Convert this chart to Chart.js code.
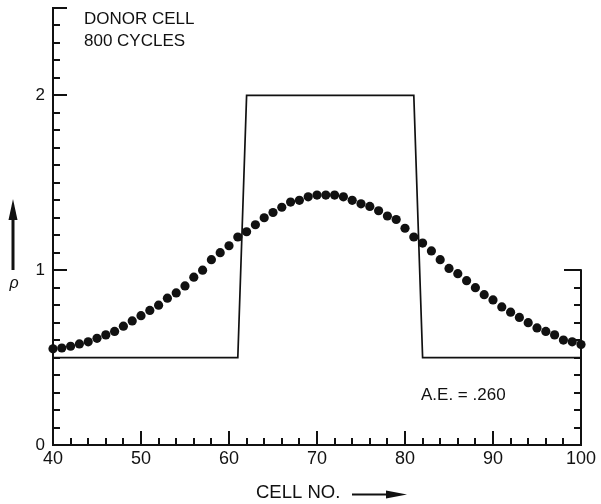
<!DOCTYPE html>
<html>
<head>
<meta charset="utf-8">
<script src="https://cdn.jsdelivr.net/npm/chart.js@4.4.0/dist/chart.umd.min.js"></script>
<style>
  html, body { margin: 0; padding: 0; background: #fff; }
  canvas { display: block; }
</style>
</head>
<body>
<canvas id="profile" width="601" height="504"></canvas>
<script>
// Donor-cell advection of a square pulse after 800 cycles.

const cellNumbers = [
  40, 41, 42, 43, 44, 45, 46, 47, 48, 49,
  50, 51, 52, 53, 54, 55, 56, 57, 58, 59,
  60, 61, 62, 63, 64, 65, 66, 67, 68, 69,
  70, 71, 72, 73, 74, 75, 76, 77, 78, 79,
  80, 81, 82, 83, 84, 85, 86, 87, 88, 89,
  90, 91, 92, 93, 94, 95, 96, 97, 98, 99, 100
];

const computedRho = [
  0.55, 0.555, 0.565, 0.578, 0.59, 0.61, 0.63, 0.65, 0.68, 0.71,
  0.74, 0.77, 0.80, 0.84, 0.87, 0.91, 0.96, 1.00, 1.06, 1.10,
  1.14, 1.19, 1.22, 1.26, 1.30, 1.33, 1.36, 1.39, 1.40, 1.42,
  1.43, 1.43, 1.43, 1.42, 1.40, 1.38, 1.365, 1.34, 1.31, 1.29,
  1.24, 1.19, 1.155, 1.11, 1.06, 1.01, 0.98, 0.94, 0.90, 0.86,
  0.83, 0.79, 0.76, 0.73, 0.70, 0.67, 0.65, 0.63, 0.60, 0.59, 0.575
];

// exact solution: the square pulse
const exactCells = [40, 61, 62, 81, 82, 100];
const exactRho = [0.5, 0.5, 2, 2, 0.5, 0.5];

const xTickLabels = [40, 50, 60, 70, 80, 90, 100];
const yTickLabels = [0, 1, 2];

const FONT = '"Liberation Sans", Arial, Helvetica, sans-serif';
const INK = '#111';

// axis lines with inward ticks, plus the short scale on the right
const axisFrame = {
  id: 'axisFrame',
  afterDatasetsDraw(chart) {
    const { ctx, scales: { x, y } } = chart;
    const xl = x.getPixelForValue(40), xr = x.getPixelForValue(100);
    const yb = y.getPixelForValue(0), yt = y.getPixelForValue(2.5);
    ctx.save();
    ctx.strokeStyle = INK;
    ctx.lineCap = 'square';
    ctx.lineWidth = 2;
    ctx.beginPath();
    ctx.moveTo(xl, yt);
    ctx.lineTo(xl, yb);
    ctx.lineTo(xr, yb);
    ctx.moveTo(xr, yb);
    ctx.lineTo(xr, y.getPixelForValue(1));
    ctx.stroke();

    ctx.lineCap = 'butt';
    ctx.beginPath();
    // left axis: minor every 0.1, major on whole numbers and the top
    for (let i = 1; i <= 25; i++) {
      const py = Math.round(y.getPixelForValue(i / 10));
      const len = (i % 10 === 0 || i === 25) ? 14 : 7;
      ctx.moveTo(xl, py);
      ctx.lineTo(xl + len, py);
    }
    // bottom axis: minor every 2 cells, major every 10
    for (let c = 42; c < 100; c += 2) {
      const px = Math.round(x.getPixelForValue(c));
      const len = c % 10 === 0 ? 14 : 7;
      ctx.moveTo(px, yb);
      ctx.lineTo(px, yb - len);
    }
    // right-hand scale from 0 to 1, ticks pointing left
    for (let i = 1; i <= 10; i++) {
      const py = Math.round(y.getPixelForValue(i / 10));
      const len = i === 10 ? 17 : 7;
      ctx.moveTo(xr, py);
      ctx.lineTo(xr - len, py);
    }
    ctx.stroke();
    ctx.restore();
  },
  afterDraw(chart) {
    const { ctx } = chart;
    ctx.save();
    ctx.fillStyle = INK;
    ctx.textBaseline = 'alphabetic';
    ctx.font = '17px ' + FONT;
    ctx.fillText('DONOR CELL', 84, 24);
    ctx.fillText('800 CYCLES', 84, 46);
    ctx.fillText('A.E. = .260', 421, 400);

    ctx.font = '18.5px ' + FONT;
    ctx.fillText('CELL NO.', 256, 498);

    // arrow after the x title
    ctx.strokeStyle = INK;
    ctx.lineWidth = 2;
    ctx.beginPath();
    ctx.moveTo(352, 494.5);
    ctx.lineTo(392, 494.5);
    ctx.stroke();
    ctx.beginPath();
    ctx.moveTo(407, 494.5);
    ctx.lineTo(386, 490.5);
    ctx.lineTo(386, 498.5);
    ctx.closePath();
    ctx.fill();

    // up arrow and rho for the y axis
    ctx.lineWidth = 3;
    ctx.beginPath();
    ctx.moveTo(13, 270);
    ctx.lineTo(13, 212);
    ctx.stroke();
    ctx.beginPath();
    ctx.moveTo(13, 199);
    ctx.lineTo(8.5, 220);
    ctx.lineTo(17.5, 220);
    ctx.closePath();
    ctx.fill();
    ctx.font = 'italic 16px ' + FONT;
    ctx.textAlign = 'center';
    ctx.fillText('\u03c1', 14, 288);
    ctx.restore();
  }
};

new Chart(document.getElementById('profile'), {
  data: {
    datasets: [
      {
        type: 'scatter',
        data: cellNumbers.map((c, i) => ({ x: c, y: computedRho[i] })),
        pointRadius: 4.6,
        pointBackgroundColor: INK,
        pointBorderWidth: 0,
        showLine: false,
        clip: false,
        order: 1
      },
      {
        type: 'line',
        data: exactCells.map((c, i) => ({ x: c, y: exactRho[i] })),
        borderColor: INK,
        borderWidth: 1.7,
        pointRadius: 0,
        tension: 0,
        fill: false,
        order: 2
      }
    ]
  },
  options: {
    responsive: false,
    animation: false,
    layout: { padding: { top: 8, right: 20, left: 0, bottom: 0 } },
    plugins: {
      legend: { display: false },
      tooltip: { enabled: false }
    },
    scales: {
      x: {
        type: 'linear',
        min: 40,
        max: 100,
        grid: { display: false, drawTicks: false },
        border: { display: false },
        ticks: {
          stepSize: 10,
          padding: 3,
          color: INK,
          maxRotation: 0,
          font: { family: FONT, size: 18 },
          callback: v => xTickLabels.includes(v) ? String(v) : ''
        },
        afterFit(scale) {
          scale.height = 59;
          scale.paddingLeft = 0;
          scale.paddingRight = 0;
        }
      },
      y: {
        type: 'linear',
        min: 0,
        max: 2.5,
        grid: { display: false, drawTicks: false },
        border: { display: false },
        ticks: {
          stepSize: 1,
          includeBounds: false,
          padding: 8,
          color: INK,
          font: { family: FONT, size: 17 },
          callback: v => yTickLabels.includes(v) ? String(v) : ''
        },
        afterFit(scale) {
          scale.width = 53;
          scale.paddingTop = 0;
          scale.paddingBottom = 0;
        }
      }
    }
  },
  plugins: [axisFrame]
});
</script>
</body>
</html>
